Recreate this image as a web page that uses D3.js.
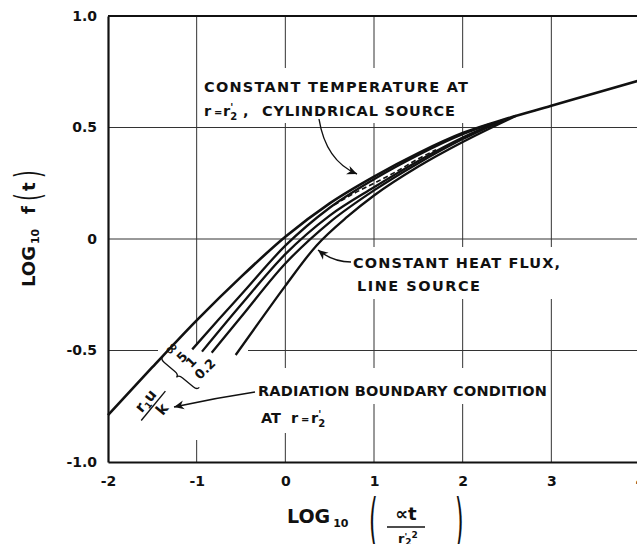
<!DOCTYPE html>
<html><head><meta charset="utf-8">
<script src="https://cdn.jsdelivr.net/npm/d3@7"></script>
<style>
html,body{margin:0;padding:0;background:#fff;}
svg{display:block;}
text{font-family:"DejaVu Sans",sans-serif;font-weight:bold;fill:#111;}
</style>
</head><body>
<svg id="c" width="637" height="544"></svg>
<script>
// ---- data ----
const xTicks = [-2, -1, 0, 1, 2, 3, 4];
const xTickLabels = ["-2", "-1", "0", "1", "2", "3", "4"];
const yTicks = [-1, -0.5, 0, 0.5, 1];
const yTickLabels = ["-1.0", "-0.5", "0", "0.5", "1.0"];
const xGrid = [-1, 0, 1, 2, 3];
const yGrid = [-0.5, 0, 0.5];

const paramLabels = ["∞", "5", "1", "0.2"];

// r1u/k = infinity (continues to the right edge)
const xInf = [-2, -1.5, -1, -0.5, 0, 0.5, 1, 1.5, 2, 2.5, 3, 3.5, 3.98];
const yInf = [-0.79, -0.575, -0.365, -0.17, 0.01, 0.16, 0.28, 0.385, 0.475, 0.54, 0.597, 0.655, 0.71];
// r1u/k = 5
const x5 = [-1.05, -0.75, -0.5, 0, 0.5, 1, 1.5, 2, 2.3];
const y5 = [-0.495, -0.36, -0.25, -0.03, 0.14, 0.268, 0.377, 0.47, 0.514];
// r1u/k = 1
const x1 = [-0.94, -0.5, 0, 0.5, 1, 1.5, 2, 2.45];
const y1 = [-0.505, -0.295, -0.068, 0.105, 0.232, 0.35, 0.455, 0.532];
// r1u/k = 0.2
const x02 = [-0.83, -0.5, 0, 0.5, 1, 1.5, 2, 2.45];
const y02 = [-0.51, -0.35, -0.11, 0.075, 0.218, 0.34, 0.448, 0.531];
// constant heat flux, line source
const xLine = [-0.56, -0.3, 0, 0.35, 0.7, 1, 1.5, 2, 2.6];
const yLine = [-0.52, -0.375, -0.21, -0.03, 0.1, 0.195, 0.325, 0.435, 0.552];
// constant temperature at r = r'2, cylindrical source (dashed)
const xCyl = [0.55, 0.8, 1, 1.25, 1.5, 1.7];
const yCyl = [0.152, 0.21, 0.25, 0.302, 0.36, 0.4];

// ---- chart ----
const svg = d3.select("#c");
const x = d3.scaleLinear().domain([-2, 4]).range([108, 640]);
const y = d3.scaleLinear().domain([-1, 1]).range([462, 16]);
const ink = "#111";

// gridlines
svg.append("g").selectAll("line").data(xGrid).join("line")
  .attr("x1", d => x(d)).attr("x2", d => x(d))
  .attr("y1", y(1)).attr("y2", y(-1))
  .attr("stroke", "#333").attr("stroke-width", 1);
svg.append("g").selectAll("line").data(yGrid).join("line")
  .attr("x1", x(-2)).attr("x2", 637)
  .attr("y1", d => y(d)).attr("y2", d => y(d))
  .attr("stroke", "#333").attr("stroke-width", 1);

// white masks behind annotations (gridlines are broken there)
const masks = [
  [200, 68, 272, 55],
  [349, 247, 214, 52],
  [254, 368, 296, 36],
  [257, 404, 85, 29],
  [158, 345, 90, 95]
];
svg.append("g").selectAll("rect").data(masks).join("rect")
  .attr("x", d => d[0]).attr("y", d => d[1]).attr("width", d => d[2]).attr("height", d => d[3])
  .attr("fill", "#fff");

// frame
svg.append("line").attr("x1", x(-2)).attr("x2", 637).attr("y1", y(1)).attr("y2", y(1))
  .attr("stroke", ink).attr("stroke-width", 2.2);

// axes
const yAxis = svg.append("g").attr("transform", `translate(${x(-2)},0)`)
  .call(d3.axisLeft(y).tickValues(yTicks).tickSize(0).tickSizeOuter(0).tickPadding(11)
    .tickFormat((d, i) => yTickLabels[i]));
const xAxis = svg.append("g").attr("transform", `translate(0,${y(-1)})`)
  .call(d3.axisBottom(x).tickValues(xTicks).tickSize(0).tickSizeOuter(0).tickPadding(14)
    .tickFormat((d, i) => xTickLabels[i]));
[yAxis, xAxis].forEach(g => {
  g.select(".domain").attr("stroke", ink).attr("stroke-width", 2.2);
  g.selectAll("text").style("font-family", '"DejaVu Sans",sans-serif')
    .style("font-weight", "bold").style("font-size", "14px").attr("fill", ink);
});

// curves
const line = d3.line().x(d => x(d[0])).y(d => y(d[1])).curve(d3.curveMonotoneX);
const curves = [
  {xs: xInf, ys: yInf, w: 2.6},
  {xs: x5, ys: y5, w: 2.3},
  {xs: x1, ys: y1, w: 2.3},
  {xs: x02, ys: y02, w: 2.3},
  {xs: xLine, ys: yLine, w: 2.3}
];
svg.append("g").selectAll("path").data(curves).join("path")
  .attr("d", c => line(d3.zip(c.xs, c.ys)))
  .attr("fill", "none").attr("stroke", ink).attr("stroke-width", c => c.w)
  .attr("stroke-linecap", "butt");
svg.append("path").attr("d", line(d3.zip(xCyl, yCyl)))
  .attr("fill", "none").attr("stroke", ink).attr("stroke-width", 1.6)
  .attr("stroke-dasharray", "5,3");

// arrow marker
svg.append("defs").append("marker").attr("id", "ah")
  .attr("viewBox", "-10 -5 12 10").attr("refX", 0).attr("refY", 0)
  .attr("markerWidth", 12).attr("markerHeight", 10).attr("markerUnits", "userSpaceOnUse")
  .attr("orient", "auto")
  .append("path").attr("d", "M0,0 L-10,-4.5 L-7,0 L-10,4.5 Z").attr("fill", ink);

const arrows = [
  "M319,119 C324,150 338,166 357,174",
  "M351,262 Q333,262 318,250",
  "M255,392 Q215,398 174,407"
];
svg.append("g").selectAll("path").data(arrows).join("path")
  .attr("d", d => d).attr("fill", "none").attr("stroke", ink).attr("stroke-width", 1.4)
  .attr("marker-end", "url(#ah)");

// annotations
const fs = 14.5;
function txt(xp, yp, s, len, size) {
  const t = svg.append("text").attr("x", xp).attr("y", yp).style("font-size", (size || fs) + "px").text(s);
  if (len) t.attr("textLength", len).attr("lengthAdjust", "spacing");
  return t;
}
function rPrime2(xp, yp) {
  const t = svg.append("text").attr("x", xp).attr("y", yp).style("font-size", fs + "px");
  t.append("tspan").text("r");
  t.append("tspan").attr("dy", -5).style("font-size", "10px").text("'");
  t.append("tspan").attr("dx", -3).attr("dy", 9).style("font-size", "10px").text("2");
  return t;
}
txt(204, 92, "CONSTANT TEMPERATURE AT", 264);
txt(204, 116, "r", null);
txt(214, 116, "=", null, 10);
rPrime2(223, 116);
txt(243, 116, ",", null);
txt(262, 116, "CYLINDRICAL SOURCE", 193);

txt(353, 268, "CONSTANT HEAT FLUX,", 207);
txt(357, 291, "LINE SOURCE", 123);

txt(258, 396, "RADIATION BOUNDARY CONDITION", 289);
txt(261, 423, "AT", 20);
txt(291, 423, "r", null);
txt(301, 423, "=", null, 10);
rPrime2(311, 423);

// parameter labels along the curve starts
const labelPos = [[171, 348], [182, 357], [191, 362], [205, 369]];
svg.append("g").selectAll("text").data(paramLabels).join("text")
  .attr("transform", (d, i) => `translate(${labelPos[i][0]},${labelPos[i][1]}) rotate(-45)`)
  .attr("text-anchor", "middle").attr("dy", "0.35em")
  .style("font-size", d => d === "∞" ? "16px" : "13px")
  .text(d => d);

// brace
const bL = 47.7, bh = 7;
svg.append("path")
  .attr("transform", "translate(162.7,356.7) rotate(39.9)")
  .attr("d", `M0,0 Q0,${bh/2} 5,${bh/2} L${bL/2-5},${bh/2} Q${bL/2},${bh/2} ${bL/2},${bh} Q${bL/2},${bh/2} ${bL/2+5},${bh/2} L${bL-5},${bh/2} Q${bL},${bh/2} ${bL},0`)
  .attr("fill", "none").attr("stroke", ink).attr("stroke-width", 1.3);

// fraction r1u / k
const fr = svg.append("g").attr("transform", "translate(153.3,405.8) rotate(-50.5)");
fr.append("line").attr("x1", -19).attr("x2", 19).attr("y1", 0).attr("y2", 0)
  .attr("stroke", ink).attr("stroke-width", 1.4);
const num = fr.append("text").attr("x", -1).attr("y", -4).attr("text-anchor", "middle").style("font-size", "15px");
num.append("tspan").text("r");
num.append("tspan").attr("dy", 3).style("font-size", "9px").text("1");
num.append("tspan").attr("dy", -3).text("u");
fr.append("text").attr("x", 3).attr("y", 14).attr("text-anchor", "middle").style("font-size", "15px").text("k");

// y axis title
const yt = svg.append("g").attr("transform", "translate(35,287) rotate(-90)");
const yl = yt.append("text").attr("x", 0).attr("y", 0).style("font-size", "18px");
yl.append("tspan").text("LOG");
yl.append("tspan").attr("dx", 2).attr("dy", 4).style("font-size", "11px").text("10");
yt.append("text").attr("x", 73).attr("y", 0).style("font-size", "18px").text("f");
yt.append("text").attr("transform", "translate(86,5) scale(1,1.75)").style("font-size", "20px").style("font-weight", "normal").text("(");
yt.append("text").attr("x", 96).attr("y", 0).style("font-size", "18px").text("t");
yt.append("text").attr("transform", "translate(109,5) scale(1,1.75)").style("font-size", "20px").style("font-weight", "normal").text(")");

// x axis title
const xl = svg.append("text").attr("x", 287).attr("y", 523).style("font-size", "19px");
xl.append("tspan").text("LOG");
xl.append("tspan").attr("dx", 3).attr("dy", 4).style("font-size", "11px").text("10");
svg.append("text").attr("transform", "translate(369,541) scale(1,2.7)").style("font-size", "22px").style("font-weight", "normal").text("(");
svg.append("text").attr("transform", "translate(455,541) scale(1,2.7)").style("font-size", "22px").style("font-weight", "normal").text(")");
svg.append("text").attr("x", 406).attr("y", 520).attr("text-anchor", "middle").style("font-size", "18px").text("∝t");
svg.append("line").attr("x1", 387).attr("x2", 425).attr("y1", 527).attr("y2", 527).attr("stroke", ink).attr("stroke-width", 1.4);
const den = svg.append("text").attr("x", 398).attr("y", 543).style("font-size", "13px");
den.append("tspan").text("r");
den.append("tspan").attr("dy", -3).style("font-size", "9px").text("'");
den.append("tspan").attr("dx", -2).attr("dy", 5).style("font-size", "9px").text("2");
den.append("tspan").attr("dy", -7).style("font-size", "9px").text("2");
</script>
</body></html>
